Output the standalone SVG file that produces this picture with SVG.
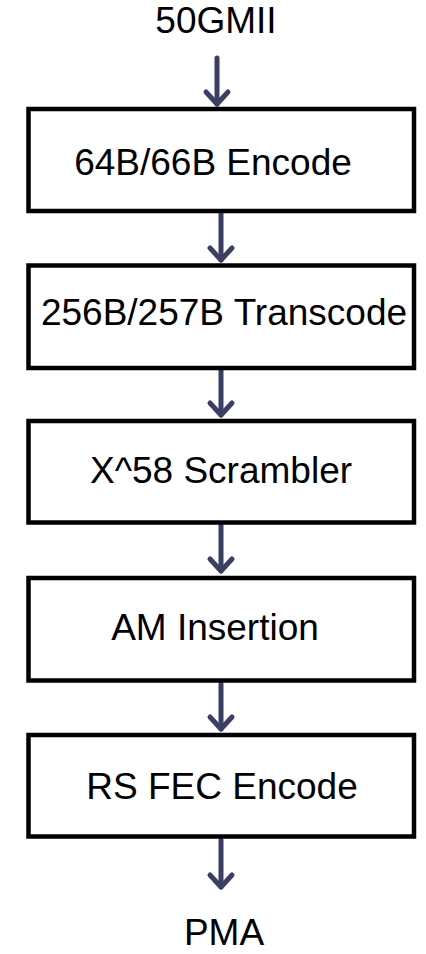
<svg xmlns="http://www.w3.org/2000/svg" width="426" height="954" viewBox="0 0 426 954">
  <style>
    .box { fill: #ffffff; stroke: #000000; stroke-width: 4.5; }
    .lbl { font-family: "Liberation Sans", Arial, sans-serif; font-size: 37px; fill: #000000; }
    .conn { stroke: #3b3f63; stroke-width: 5; fill: none; stroke-linecap: round; }
  </style>
  <defs>
    <marker id="chev" markerUnits="userSpaceOnUse" markerWidth="30" markerHeight="30" refX="0" refY="0" orient="auto" overflow="visible" viewBox="-15 -15 30 30">
      <path d="M-12,-11 L0,0 L-12,11" fill="none" stroke="#3b3f63" stroke-width="5" stroke-linecap="round" stroke-linejoin="round"/>
    </marker>
  </defs>
  <rect width="426" height="954" fill="#ffffff"/>
  <g id="connectors">
    <line class="conn" x1="217" y1="58" x2="217" y2="104" marker-end="url(#chev)"/>
    <line class="conn" x1="221" y1="214" x2="221" y2="260" marker-end="url(#chev)"/>
    <line class="conn" x1="221" y1="371" x2="221" y2="415" marker-end="url(#chev)"/>
    <line class="conn" x1="221" y1="525" x2="221" y2="571" marker-end="url(#chev)"/>
    <line class="conn" x1="221" y1="684" x2="221" y2="729" marker-end="url(#chev)"/>
    <line class="conn" x1="221" y1="840" x2="221" y2="887" marker-end="url(#chev)"/>
  </g>
  <g id="in">
    <text class="lbl" x="216" y="33" text-anchor="middle">50GMII</text>
  </g>
  <g id="enc6466">
    <rect class="box" x="28.5" y="109" width="385.5" height="102"/>
    <text class="lbl" x="213" y="175" text-anchor="middle">64B/66B Encode</text>
  </g>
  <g id="transcode">
    <rect class="box" x="28.5" y="265.5" width="385.5" height="102.5"/>
    <text class="lbl" x="224" y="325" text-anchor="middle">256B/257B Transcode</text>
  </g>
  <g id="scrambler">
    <rect class="box" x="28.5" y="421" width="385.5" height="101.5"/>
    <text class="lbl" x="221" y="483" text-anchor="middle">X^58 Scrambler</text>
  </g>
  <g id="am">
    <rect class="box" x="28.5" y="578" width="385.5" height="102.5"/>
    <text class="lbl" x="215" y="640" text-anchor="middle">AM Insertion</text>
  </g>
  <g id="fec">
    <rect class="box" x="28.5" y="735" width="385.5" height="101.5"/>
    <text class="lbl" x="222" y="799" text-anchor="middle">RS FEC Encode</text>
  </g>
  <g id="out">
    <text class="lbl" x="224" y="945" text-anchor="middle">PMA</text>
  </g>
</svg>
